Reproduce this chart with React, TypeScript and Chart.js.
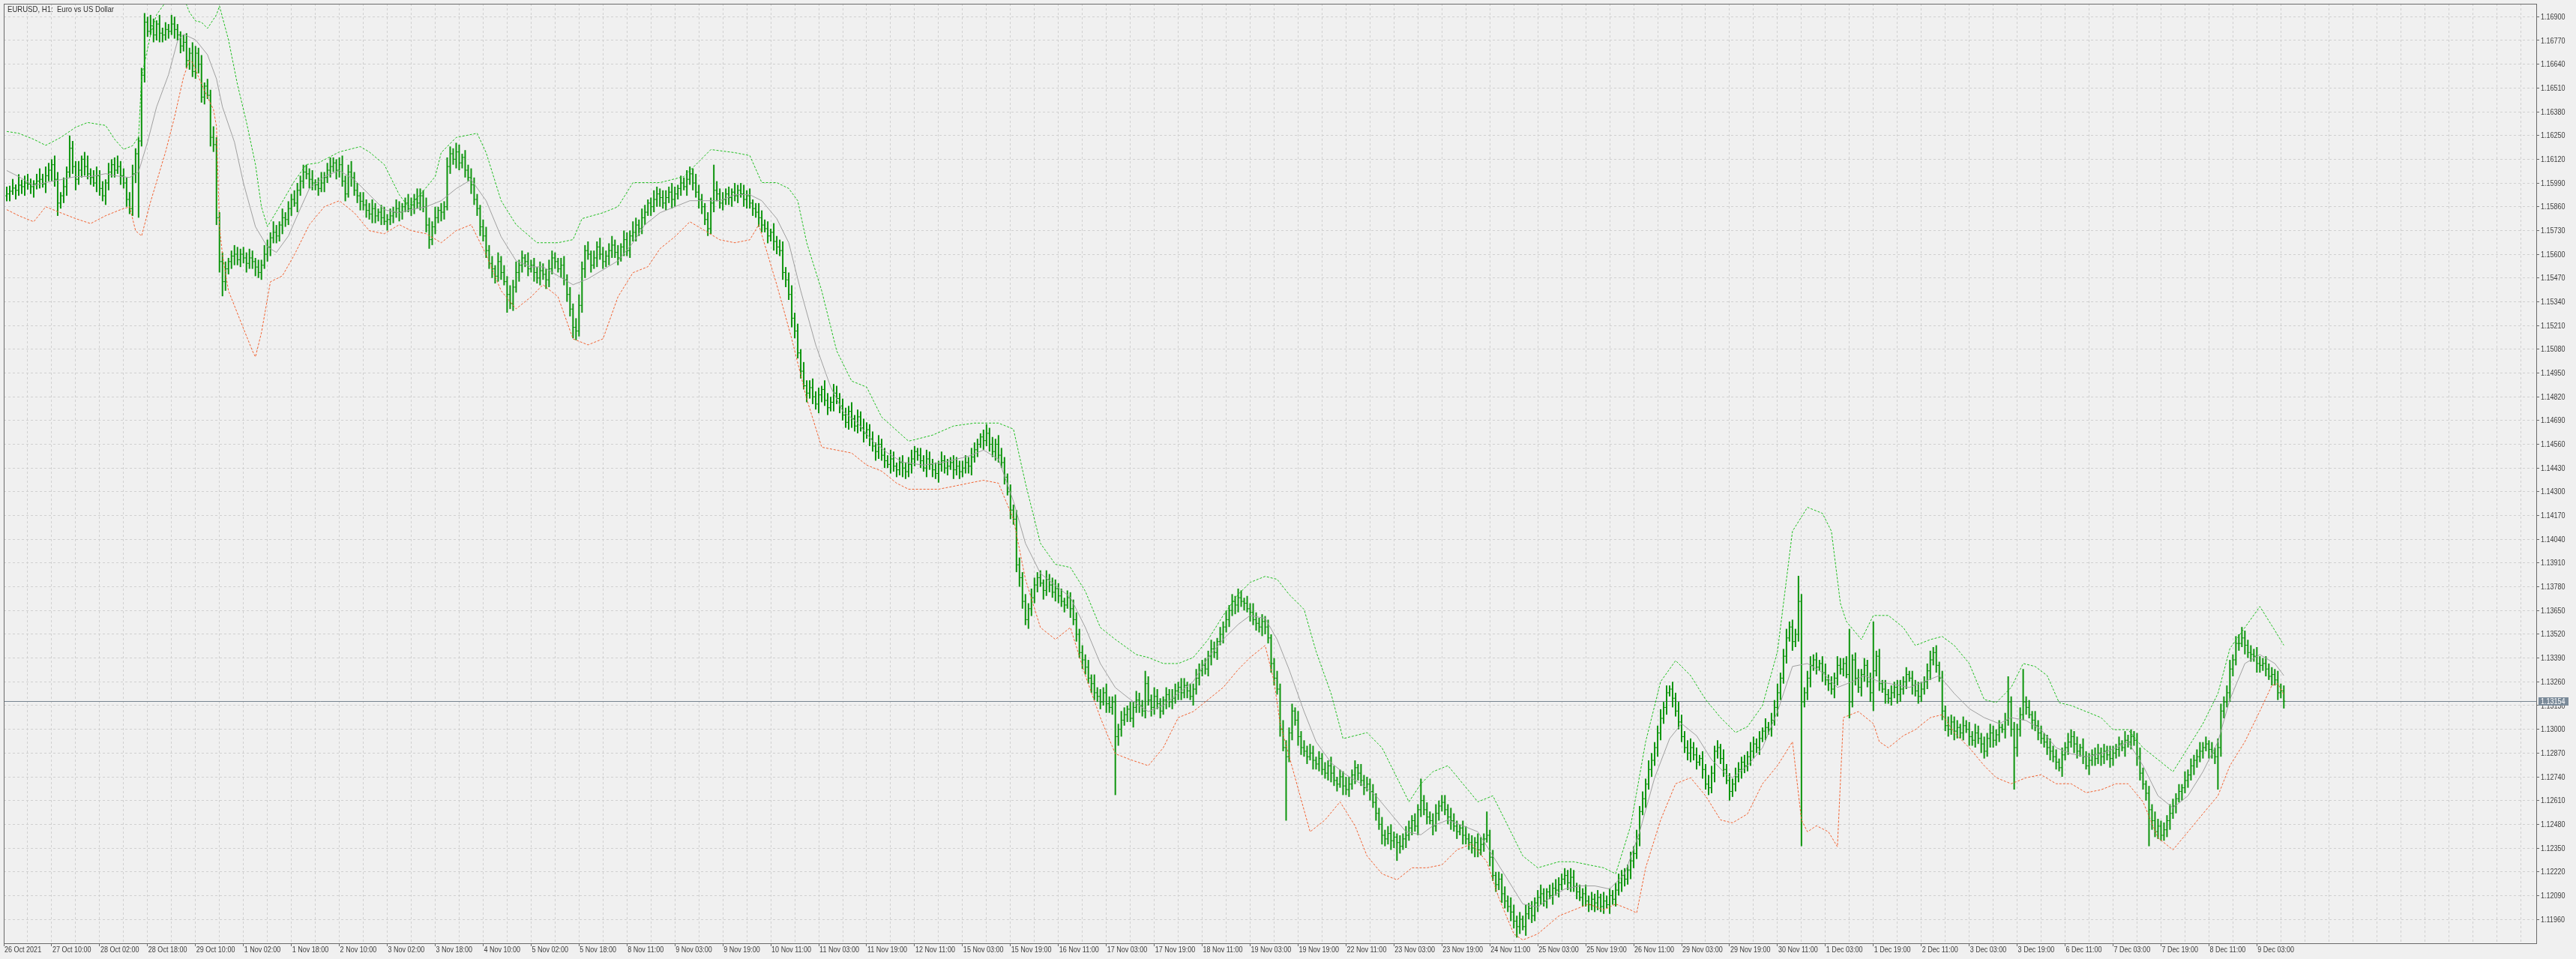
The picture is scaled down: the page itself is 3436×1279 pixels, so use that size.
import React, { useEffect, useRef } from 'react';
import { Chart, registerables } from 'chart.js';

Chart.register(...registerables);

const chartTitle = 'EURUSD, H1:  Euro vs US Dollar';

const dateLabels = [
  '26 Oct 2021', '27 Oct 10:00', '28 Oct 02:00', '28 Oct 18:00', '29 Oct 10:00', '1 Nov 02:00', '1 Nov 18:00',
  '2 Nov 10:00', '3 Nov 02:00', '3 Nov 18:00', '4 Nov 10:00', '5 Nov 02:00', '5 Nov 18:00', '8 Nov 11:00',
  '9 Nov 03:00', '9 Nov 19:00', '10 Nov 11:00', '11 Nov 03:00', '11 Nov 19:00', '12 Nov 11:00', '15 Nov 03:00',
  '15 Nov 19:00', '16 Nov 11:00', '17 Nov 03:00', '17 Nov 19:00', '18 Nov 11:00', '19 Nov 03:00', '19 Nov 19:00',
  '22 Nov 11:00', '23 Nov 03:00', '23 Nov 19:00', '24 Nov 11:00', '25 Nov 03:00', '25 Nov 19:00', '26 Nov 11:00',
  '29 Nov 03:00', '29 Nov 19:00', '30 Nov 11:00', '1 Dec 03:00', '1 Dec 19:00', '2 Dec 11:00', '3 Dec 03:00',
  '3 Dec 19:00', '6 Dec 11:00', '7 Dec 03:00', '7 Dec 19:00', '8 Dec 11:00', '9 Dec 03:00',
];

// Prices are stored in units of 0.00001 above 1.10000
const firstOpen = 5920;
const closes = [
  5930,5945,5962,5950,5978,5970,5990,5984,5970,5985,6000,
  6010,5985,6030,6060,
  6090,6010,5880,5920,5970,6050,6180,6080,6010,6060,6120,6080,6040,6020,5990,6030,5960,5920,5990,6050,
  6090,6060,6080,6030,5990,5900,5850,6040,6150,6220,6580,6870,6820,6850,
  6800,6860,6810,6800,6830,6820,6860,6830,6800,6740,6760,6660,6700,6600,6700,6640,6460,6520,6470,6240,6200,
  5800,5560,5450,5520,
  5560,5590,5600,5570,5600,5580,5550,5580,5560,5530,5500,5540,5600,
  5640,5690,5720,5700,5760,5800,5790,5850,5900,5880,5950,6000,6050,
  6040,6010,5990,5980,5960,5990,6020,6060,6080,6100,6060,6090,
  6000,5930,6050,6020,5950,5920,5890,5870,5840,5820,5850,5810,5830,5800,5780,5790,5810,
  5830,5850,5830,5860,5880,5850,5870,5900,5880,5920,5860,5760,5680,5750,5800,5840,5830,5860,
  6080,6150,6120,6160,6100,6130,6060,
  6020,5980,5900,5850,5750,5700,5620,
  5550,5520,5480,5560,5500,5450,5380,5330,
  5420,5500,5540,5580,5560,5520,5540,5500,5470,5510,5490,5460,5520,5580,5560,5520,5540,
  5460,5380,5300,5200,5180,5320,
  5520,5620,5600,5540,5580,5640,5600,5560,5590,5620,5650,5610,5580,5640,5680,
  5620,5700,5720,5760,5740,5800,5830,5880,5860,5900,5930,5910,5880,
  5910,5940,5900,5930,5960,5990,5970,6010,6040,
  5990,5940,5900,5860,5790,5740,5880,5950,
  5930,5880,5900,5930,5910,5940,5920,5950,5930,5900,5920,5880,5850,5830,
  5800,5760,5740,5700,5720,5670,5640,5620,
  5500,5460,5380,5250,5180,
  5060,4960,4880,4840,4870,
  4820,4780,4830,4860,4800,4760,4790,4840,4810,4770,4720,4680,4740,4700,4660,4710,4650,4620,4640,
  4590,4550,4520,4560,4500,4470,4450,4480,4440,4420,4460,4430,4410,4450,4480,
  4520,4500,4470,4430,4480,4450,4420,4400,4450,4470,4430,4440,4460,4420,4440,4410,4430,4460,4440,4490,4530,4560,
  4600,4580,4620,4560,4520,4560,4500,4460,
  4380,4300,4200,4150,
  3900,3830,3700,3600,3660,
  3720,3790,3830,3800,3760,3820,3790,3750,3770,3730,3700,3680,3720,3660,3600,
  3520,3420,3380,3340,3280,3250,3200,
  3180,3150,3200,3140,3120,3150,2960,
  3000,3050,3080,3110,3060,3120,3160,3130,3100,3250,3160,3120,
  3180,3140,3100,3160,3190,3150,3170,3210,3230,3200,3240,3210,3180,3220,
  3280,3320,3350,3330,3400,3440,3420,3480,3520,3560,3600,3650,3700,
  3680,3720,3700,3690,3660,3640,3600,3580,3560,3590,3560,3500,
  3360,3280,3220,
  3000,2900,2850,2980,3100,3050,2960,2900,
  2880,2850,2870,2830,2810,2840,2780,2760,2800,2760,2720,2700,2740,2690,2670,2700,2750,2790,2760,2720,2680,2700,2660,
  2600,2540,2480,2420,2400,
  2430,2390,2410,2380,2360,2400,2420,2460,2500,2470,2560,2610,
  2560,2520,2500,2470,2540,2580,2600,2560,2520,2500,
  2470,2440,2460,2420,2400,2380,2350,2380,2340,2370,2400,2420,
  2300,2200,2150,2180,2100,2060,2030,2000,1950,1920,
  1960,1920,1990,2020,1980,2050,2080,
  2100,2060,2110,2090,2130,2120,2150,2180,2200,2160,2190,2140,
  2110,2080,2100,2060,2040,2070,2050,2080,2030,2060,2040,2090,2070,
  2120,2160,2200,2180,2230,2280,2320,
  2400,2550,2620,2700,2780,2830,2900,2980,3060,3120,
  3200,3220,3170,3100,3040,
  2960,2900,2870,2900,2860,2820,2840,2780,2700,2680,2760,2880,2900,2840,2780,2720,2660,
  2700,2740,2780,2820,2800,2850,2880,2920,2900,2950,2990,3010,3000,3050,
  3120,3200,3280,3400,3500,3560,3480,3520,3700,3150,
  3200,3280,3350,3380,3340,3360,3310,3270,3250,3220,3280,3350,3330,3360,3300,
  3150,3380,3280,3230,3300,3350,3260,3200,3320,3400,3250,3220,
  3190,3170,3200,3230,3190,3220,3260,3300,3280,3240,3210,3180,3220,3260,
  3320,3380,3420,3350,3280,
  3100,3020,3000,3040,2990,3010,2980,3020,3000,2960,2940,2980,
  2950,2920,2880,2950,2980,2940,2970,3010,3000,3050,3150,3000,2900,
  3000,3080,3150,3120,3080,3050,3020,
  2980,2950,2930,2900,2880,2850,2820,2790,2860,2900,2930,2960,
  2920,2880,2900,2850,2800,2830,2860,2840,2870,2850,2880,2860,2840,2870,2890,
  2920,2900,2940,2930,2960,2940,2850,2760,2700,2650,
  2560,2500,2440,2470,2420,2450,2500,2540,2580,
  2620,2660,2680,2720,2750,2800,2830,2850,2880,2900,2920,2890,2870,2850,2900,
  3100,3150,3200,3330,3380,3470,3470,3500,3460,3420,3410,3400,3360,3350,3360,3330,3290,3300,3270,3200,3210,3154,
];

// Wicks in pips beyond the bar body (max/min of open and close)
const upWick = [
  4,3,5,2,6,3,4,5,3,2,4,6,3,5,4,3,5,4,2,5,
  3,7,4,3,5,2,4,6,3,4,5,3,4,2,5,3,4,6,3,4,
  3,4,5,3,2,4,5,3,6,4,2,5,3,4,3,5,4,3,2,4,
  5,3,6,4,3,5,2,4,3,6,4,3,5,4,2,3,5,4,3,4,
  3,5,4,2,4,3,5,4,3,6,4,2,5,3,4,3,5,4,3,4,
  4,3,5,2,4,6,3,4,5,3,2,4,5,3,4,6,3,4,2,5,
  3,4,5,3,2,4,6,3,4,3,5,4,2,3,5,4,3,6,4,3,
  5,4,3,6,2,4,3,5,4,3,5,4,2,4,3,5,4,3,2,4,
  5,3,4,2,5,3,4,3,5,4,6,3,4,2,5,3,4,3,5,4,
  3,5,4,3,2,4,5,3,4,3,5,6,4,3,5,2,4,3,5,4,
  3,4,5,3,4,2,5,4,3,6,4,3,5,4,2,3,5,4,3,4,
  4,3,5,4,2,4,3,5,4,3,5,4,3,2,4,3,14,5,3,4,
  3,4,2,5,3,4,5,3,4,2,3,5,4,3,4,2,5,3,4,5,
  3,4,5,3,4,2,5,3,4,5,3,4,2,5,4,3,5,4,3,4,
  4,3,5,2,4,3,5,4,3,4,2,5,3,4,3,5,4,2,3,4,
  3,4,5,3,2,4,3,5,4,3,4,2,5,3,4,3,4,5,3,4,
  4,3,5,4,3,2,4,5,3,4,3,5,4,3,2,4,3,5,4,3,
  4,3,5,4,3,4,2,5,3,4,5,3,4,2,4,3,5,4,3,4,
  3,4,2,5,3,4,3,5,4,3,4,3,5,4,2,4,3,5,4,3,
  7,4,3,5,4,3,2,4,3,5,4,3,5,4,2,4,3,5,4,3,
  4,3,5,4,2,4,3,5,3,4,3,5,4,2,4,3,5,4,3,4,
  3,4,2,3,4,3,5,4,3,4,2,5,3,4,3,5,4,2,4,3,
  4,3,5,4,2,4,3,5,4,3,4,2,5,3,4,3,4,5,3,4,
  3,4,5,3,2,4,3,5,4,3,4,3,12,3,4,3,4,5,3,4,
  4,3,5,4,3,2,4,5,3,4,3,5,4,3,13,3,4,2,4,3,
  4,3,5,4,3,4,2,5,3,4,3,4,5,3,2,4,3,5,4,3,
  4,3,5,4,2,4,3,5,3,4,3,4,2,5,3,4,3,4,5,3,
  4,3,5,4,5,3,4,3,5,4,3,4,5,3,4,2,4,3,5,4,
  3,4,5,3,4,2,4,3,5,4,3,4,2,5,3,4,3,5,4,3,
  4,3,5,4,3,4,2,5,3,4,4,5,3,4,5,3,4,3,14,4,
  3,4,5,3,4,2,4,5,3,4,3,5,4,3,4,25,3,4,5,3,
  4,3,5,27,3,4,2,5,3,4,3,4,5,3,4,2,4,3,5,4,
  3,4,5,3,4,2,4,3,5,4,3,4,2,5,3,4,3,5,4,3,
  4,3,5,4,3,4,2,4,14,3,4,3,4,18,3,4,2,5,3,4,
  3,4,5,3,4,2,4,3,5,4,3,4,2,5,3,4,3,4,5,3,
  4,3,5,4,3,4,2,5,3,4,3,4,5,3,2,4,3,5,4,3,
  4,3,5,4,3,4,2,5,3,4,3,4,5,3,4,2,4,3,5,4,
  3,4,5,3,4,5,6,4,3,4,3,5,4,3,4,3,4,3,5,4,3,
];

const downWick = [
  3,4,2,5,3,4,5,3,4,6,3,4,2,5,3,6,4,7,3,4,
  5,3,4,6,3,4,5,3,4,2,5,4,3,5,4,3,4,2,5,3,
  4,3,4,5,35,3,4,3,2,4,3,5,4,3,4,2,5,3,4,3,
  4,5,3,4,5,3,4,2,5,4,4,6,8,5,3,4,5,3,4,3,
  5,3,4,5,3,4,2,4,5,3,4,3,5,4,3,4,2,5,3,4,
  3,5,4,3,4,2,5,3,4,3,5,4,3,4,2,5,3,4,5,3,
  4,3,5,4,3,4,2,5,3,4,3,5,4,3,2,4,5,3,4,3,
  4,5,3,4,3,5,4,2,4,3,5,4,3,4,2,5,3,4,5,3,
  4,3,5,4,3,4,2,10,3,4,3,5,4,3,4,2,5,3,4,3,
  5,4,3,4,2,5,3,4,4,6,5,3,4,5,3,4,2,5,3,4,
  3,5,4,3,4,2,5,3,4,3,5,4,3,4,2,5,3,4,5,3,
  4,3,5,4,3,4,2,5,3,4,3,5,4,3,4,3,5,4,3,4,
  3,4,5,3,4,2,4,5,3,4,3,5,4,2,4,3,5,4,3,4,
  4,3,5,4,3,4,2,5,3,4,3,5,4,3,4,2,5,3,4,3,
  3,4,5,3,4,2,5,3,4,3,5,4,3,4,2,5,3,4,3,5,
  4,3,5,4,3,4,2,5,3,4,3,5,4,3,4,2,5,3,4,3,
  3,4,5,3,4,2,5,3,4,3,5,4,3,4,2,5,3,4,5,4,
  3,5,4,3,4,2,5,3,4,3,5,4,3,4,2,5,3,4,3,5,
  4,3,5,4,3,4,2,5,3,4,32,5,4,3,4,2,5,3,4,3,
  4,3,5,4,3,4,2,5,3,4,3,5,4,3,4,2,5,3,4,3,
  3,4,5,3,4,2,5,3,4,3,5,4,3,4,2,5,3,4,3,5,
  4,3,5,4,3,4,2,35,3,4,3,5,4,3,4,2,5,3,4,3,
  3,4,5,3,4,2,5,3,4,3,5,4,3,4,2,5,3,4,3,5,
  4,3,5,4,10,4,2,5,3,4,3,5,4,3,4,2,5,3,4,3,
  3,4,5,3,4,2,5,3,4,3,5,4,3,4,2,5,3,4,3,5,
  4,3,5,4,6,4,2,5,3,4,3,5,4,3,4,2,5,3,4,3,
  3,4,5,3,4,2,5,3,4,3,5,4,3,4,2,5,3,4,3,5,
  4,3,5,4,3,4,2,5,3,4,3,5,4,3,4,2,5,3,4,3,
  3,4,5,3,4,2,5,3,4,3,5,4,3,4,2,5,3,4,3,5,
  4,3,5,4,3,4,2,5,3,4,3,5,4,3,4,2,5,3,4,79,
  3,4,5,3,4,2,5,3,4,3,5,4,3,4,2,9,3,4,3,5,
  4,3,5,10,3,4,2,5,3,4,3,5,4,3,4,2,5,3,4,3,
  3,4,5,3,4,2,5,3,4,3,5,4,3,4,2,5,3,4,3,5,
  4,3,5,4,3,4,2,5,3,4,23,5,4,3,4,2,5,3,4,3,
  3,4,5,3,4,2,5,3,4,3,5,4,3,4,2,5,3,4,3,5,
  4,3,5,4,3,4,2,5,3,4,3,5,4,3,4,20,5,3,4,3,
  3,4,5,3,4,2,5,3,4,3,5,4,3,4,2,5,3,4,18,5,
  4,3,5,4,3,4,2,5,3,4,3,5,4,3,4,2,5,3,4,3,4,
];

// Indicator lines: bar index and value (0.00001 above 1.10000)
const upperBandBars = [
  0,4,9,13,18,23,27,33,36,39,42,44,45,48,50,53,56,60,61,63,65,67,70,71,74,77,80,83,85,87,
  91,96,100,104,111,118,121,126,131,134,138,143,145,150,157,160,165,170,177,184,189,192,199,204,209,218,226,235,243,248,
  252,257,261,264,267,272,277,282,287,292,301,309,316,323,331,336,340,345,350,355,360,365,370,377,381,
  386,391,396,401,406,411,415,420,424,428,433,437,442,446,450,454,459,464,468,472,476,481,486,491,496,501,506,511,518,523,
  528,533,537,542,547,552,557,562,567,572,577,581,586,591,596,601,606,609,612,614,619,623,628,633,637,642,646,650,655,660,
  664,669,673,677,681,685,689,694,699,703,708,713,718,723,728,733,738,742,747,752,757,760,
];
const upperBandValues = [
  6272,6262,6229,6196,6239,6295,6321,6305,6229,6174,6194,6242,6570,6802,6911,6979,7080,6965,6924,6877,6870,6836,6911,6959,6774,6529,6324,6092,5860,5751,
  5860,6000,6091,6100,6160,6189,6160,6091,5926,5860,5926,6025,6156,6239,6262,6156,5893,5762,5663,5663,5680,5795,5827,5860,5992,5992,6025,6173,6156,6140,
  5992,5992,5960,5893,5663,5400,5071,4906,4873,4709,4577,4610,4660,4676,4676,4643,4347,4018,3903,3886,3755,3557,3492,3409,3393,
  3360,3360,3393,3492,3623,3738,3804,3837,3821,3738,3656,3426,3196,2949,2965,2982,2899,2735,2603,2702,2768,2801,2702,2603,2636,2472,2307,2242,2275,2275,
  2258,2242,2209,2472,2932,3261,3376,3294,3163,3064,2982,3015,3130,3426,4084,4215,4182,4084,3689,3590,3491,3623,3623,3557,3459,3491,3508,3459,3360,3163,
  3146,3229,3360,3344,3294,3146,3130,3097,3064,2998,2998,2899,2834,2768,2899,3031,3196,3442,3557,3672,3541,3460,
];

const middleLineBars = [
  0,4,9,13,18,23,28,33,36,41,44,47,50,54,57,59,63,67,70,72,76,79,83,87,90,94,98,101,106,111,
  116,121,126,131,135,140,145,150,155,160,165,170,175,179,184,189,194,199,204,209,213,218,223,228,233,238,243,248,252,257,
  261,265,270,275,279,284,289,294,299,306,313,321,326,331,336,340,345,350,355,360,365,370,375,381,
  386,391,396,401,406,411,415,420,424,428,433,437,442,447,452,457,462,467,472,476,481,486,491,496,501,506,511,515,520,525,
  530,535,540,545,550,555,559,564,569,574,576,581,586,591,596,601,606,611,616,620,625,630,635,640,645,650,655,660,665,669,
  674,679,684,689,694,699,704,708,713,718,723,728,733,738,742,747,752,757,760,
];
const middleLineValues = [
  6058,6025,5976,5992,6008,6025,6025,6041,6030,6020,6051,6215,6406,6583,6767,6804,6774,6692,6560,6406,6214,5990,5751,5640,5610,5700,5850,5959,6025,6058,
  6008,5926,5844,5827,5844,5860,5893,5959,6008,5893,5696,5564,5531,5531,5482,5433,5466,5515,5564,5663,5762,5827,5860,5893,5893,5893,5926,5926,5893,5795,
  5663,5400,5104,4873,4742,4676,4577,4512,4462,4446,4462,4495,4528,4479,4248,4018,3853,3788,3722,3557,3360,3228,3163,3097,
  3130,3196,3261,3393,3492,3574,3623,3607,3492,3327,3097,2932,2817,2751,2702,2636,2537,2439,2423,2472,2504,2472,2439,2307,2176,2044,2027,2077,2126,2143,
  2143,2126,2209,2439,2735,2949,3031,2965,2834,2751,2735,2801,2899,3097,3344,3360,3310,3229,3261,3294,3261,3245,3229,3261,3294,3196,3113,3064,3031,3064,
  3048,2998,2899,2866,2850,2866,2899,2932,2801,2636,2570,2636,2768,2932,3163,3360,3409,3360,3294,
];

const lowerBandBars = [
  0,4,9,13,18,23,28,33,38,41,43,45,48,53,56,59,61,62,64,67,69,70,71,72,74,78,82,83,85,88,
  92,96,101,106,111,116,121,126,131,135,140,145,150,155,160,165,170,175,179,184,189,194,199,204,209,214,218,223,228,233,
  238,243,248,251,254,257,262,267,272,277,282,287,292,297,301,311,316,321,326,331,336,340,345,350,355,360,365,370,375,381,
  386,391,396,401,406,411,415,420,423,425,430,435,440,445,450,454,459,464,469,474,479,484,489,494,498,503,506,511,518,523,
  528,533,537,542,544,547,552,557,562,567,572,576,581,586,591,596,599,601,604,608,611,613,618,623,625,628,633,637,642,646,
  650,655,660,664,669,674,679,684,689,694,699,704,708,713,718,723,728,733,738,742,747,752,756,758,760,
];
const lowerBandValues = [
  5844,5811,5778,5860,5827,5795,5768,5811,5844,5860,5729,5700,5887,6160,6351,6570,6660,6650,6570,6460,6392,6300,5751,5597,5400,5235,5071,5038,5170,5449,
  5482,5597,5762,5860,5893,5827,5729,5712,5762,5729,5712,5663,5729,5762,5597,5400,5301,5367,5433,5367,5137,5104,5137,5367,5499,5532,5630,5696,5778,5729,
  5679,5663,5679,5762,5597,5433,5137,4808,4544,4528,4512,4446,4413,4347,4314,4314,4330,4347,4363,4347,4150,3821,3557,3492,3557,3294,3064,2866,2834,2801,
  2899,3064,3097,3163,3229,3327,3393,3459,3261,3031,2735,2439,2504,2603,2472,2307,2209,2176,2242,2242,2258,2340,2373,2275,2077,1880,1847,1880,1978,2011,
  2044,2011,2044,2011,1995,2242,2504,2702,2735,2636,2504,2488,2537,2702,2801,2932,2504,2439,2472,2439,2357,3064,3097,3031,2932,2899,2965,2998,3064,3080,
  2982,2899,2801,2735,2702,2735,2751,2702,2702,2653,2669,2702,2702,2603,2406,2340,2439,2538,2636,2801,2932,3100,3240,3250,3190,
];

// Right price axis: grid every 0.0013 from 1.11960
const priceTickFirst = 1.1196;
const priceTickStep = 0.0013;
const priceTickCount = 39;
const priceAxisMin = 1.11829;
const priceAxisMax = 1.16971;

const PIP = 10;
const toPrice = (u: number) => Math.round((1.1 + u / 100000) * 100000) / 100000;

const FONT_FAMILY = "'Liberation Sans', Arial, sans-serif";
const LABEL_SQUEEZE = 0.82;
const BAR_COLOR = '#0c940c';
const GRID_COLOR = '#d0d0d0';
const FRAME_COLOR = '#6a6a6a';
const TEXT_COLOR = '#3c3c3c';

export default function App() {
  const canvasRef = useRef<HTMLCanvasElement | null>(null);

  useEffect(() => {
    const canvas = canvasRef.current;
    if (!canvas) return;
    const n = Math.min(closes.length, upWick.length, downWick.length);
    const opens: number[] = [];
    for (let i = 0; i < n; i++) opens.push(i === 0 ? firstOpen : closes[i - 1]);

    const rangeData = [];
    const openData = [];
    const closeData = [];
    for (let i = 0; i < n; i++) {
      const hi = Math.max(opens[i], closes[i]) + upWick[i] * PIP;
      const lo = Math.min(opens[i], closes[i]) - downWick[i] * PIP;
      rangeData.push({ x: i, y: [toPrice(lo), toPrice(hi)] });
      openData.push({ x: i, y: toPrice(opens[i]) });
      closeData.push({ x: i, y: toPrice(closes[i]) });
    }
    const lastPrice = toPrice(closes[n - 1]);

    const lineData = (bars: number[], vals: number[]) =>
      bars.slice(0, Math.min(bars.length, vals.length)).map((b, k) => ({ x: b, y: toPrice(vals[k]) }));

    const priceTicks: number[] = [];
    for (let k = 0; k < priceTickCount; k++) priceTicks.push(Math.round((priceTickFirst + k * priceTickStep) * 100000) / 100000);
    const timeGrid: number[] = [];
    for (let k = 0; k * 8 - 1 <= 844; k++) timeGrid.push(k * 8 - 1);

    const labelFor = (value: number) => {
      const v = Math.round(value) + 1;
      if (v % 16 !== 0) return '';
      const j = v / 16;
      return j < dateLabels.length ? dateLabels[j] : '';
    };

    const squeezedText = (ctx: any, text: string, x: number, y: number, squeeze: number) => {
      ctx.save();
      ctx.translate(x, y);
      ctx.scale(squeeze, 1);
      ctx.fillText(text, 0, 0);
      ctx.restore();
    };

    const backgroundPlugin = {
      id: 'mtBackground',
      beforeDraw(chart: any) {
        const { ctx, width, height } = chart;
        ctx.save();
        ctx.fillStyle = '#f0f0f0';
        ctx.fillRect(0, 0, width, height);
        ctx.restore();
      },
    };

    const overlayPlugin = {
      id: 'mtOverlay',
      beforeDatasetsDraw(chart: any) {
        const { ctx, chartArea, scales } = chart;
        const y = Math.round(scales.y.getPixelForValue(lastPrice)) + 0.5;
        ctx.save();
        ctx.strokeStyle = '#76838f';
        ctx.lineWidth = 1;
        ctx.beginPath();
        ctx.moveTo(chartArea.left, y);
        ctx.lineTo(chartArea.right, y);
        ctx.stroke();
        ctx.restore();
      },
      afterDraw(chart: any) {
        const { ctx, chartArea, scales } = chart;
        ctx.save();
        // frame
        ctx.strokeStyle = FRAME_COLOR;
        ctx.lineWidth = 1;
        ctx.strokeRect(chartArea.left + 0.5, chartArea.top + 0.5, chartArea.right - chartArea.left, chartArea.bottom - chartArea.top);
        // title
        ctx.fillStyle = '#303030';
        ctx.font = `11px ${FONT_FAMILY}`;
        ctx.textBaseline = 'middle';
        ctx.textAlign = 'left';
        squeezedText(ctx, chartTitle, chartArea.left + 5, chartArea.top + 8, 0.87);
        // time axis labels
        ctx.fillStyle = TEXT_COLOR;
        ctx.font = `11px ${FONT_FAMILY}`;
        for (const v of timeGrid) {
          const label = labelFor(v);
          if (!label) continue;
          const x = scales.x.getPixelForValue(v);
          squeezedText(ctx, label, x + 1, chartArea.bottom + 9, LABEL_SQUEEZE);
        }
        // price axis labels
        for (const p of priceTicks) {
          const y = scales.y.getPixelForValue(p);
          squeezedText(ctx, p.toFixed(5), chartArea.right + 6, y + 0.5, LABEL_SQUEEZE);
        }
        // price tag
        const y = Math.round(scales.y.getPixelForValue(lastPrice));
        const x0 = chartArea.right + 3;
        ctx.fillStyle = '#7a8a99';
        ctx.fillRect(x0, y - 5, 40, 11);
        ctx.fillStyle = '#ffffff';
        squeezedText(ctx, lastPrice.toFixed(5), x0 + 3, y + 0.5, LABEL_SQUEEZE);
        ctx.restore();
      },
    };

    const chart = new Chart(canvas, {
      type: 'bar',
      data: {
        datasets: [
          {
            type: 'line',
            label: 'upper',
            data: lineData(upperBandBars, upperBandValues),
            borderColor: '#1fbf1f',
            borderWidth: 1,
            borderDash: [3, 2],
            pointRadius: 0,
            tension: 0,
            fill: false,
            order: 0,
          },
          {
            type: 'line',
            label: 'middle',
            data: lineData(middleLineBars, middleLineValues),
            borderColor: '#a0a0a0',
            borderWidth: 1,
            pointRadius: 0,
            tension: 0,
            fill: false,
            order: 0,
          },
          {
            type: 'line',
            label: 'lower',
            data: lineData(lowerBandBars, lowerBandValues),
            borderColor: '#f26230',
            borderWidth: 1,
            borderDash: [3, 2],
            pointRadius: 0,
            tension: 0,
            fill: false,
            order: 0,
          },
          {
            type: 'line',
            label: 'open',
            data: openData,
            showLine: false,
            pointStyle: 'dash',
            pointRotation: 180,
            pointRadius: 2,
            pointBorderWidth: 1,
            pointBorderColor: BAR_COLOR,
            pointBackgroundColor: BAR_COLOR,
            order: 1,
          },
          {
            type: 'line',
            label: 'close',
            data: closeData,
            showLine: false,
            pointStyle: 'dash',
            pointRadius: 2,
            pointBorderWidth: 1,
            pointBorderColor: BAR_COLOR,
            pointBackgroundColor: BAR_COLOR,
            order: 1,
          },
          {
            type: 'bar',
            label: 'range',
            data: rangeData,
            backgroundColor: BAR_COLOR,
            borderWidth: 0,
            barThickness: 2,
            inflateAmount: 0,
            order: 2,
          },
        ],
      },
      options: {
        responsive: false,
        maintainAspectRatio: false,
        devicePixelRatio: 1,
        animation: false,
        events: [],
        layout: { padding: { left: 2, top: 2, right: 0, bottom: 0 } },
        plugins: {
          legend: { display: false },
          tooltip: { enabled: false },
          title: { display: false },
        },
        scales: {
          x: {
            type: 'linear',
            min: -1,
            max: 844.25,
            offset: false,
            afterBuildTicks: (axis: any) => {
              axis.ticks = timeGrid.map((v) => ({ value: v }));
            },
            afterFit: (axis: any) => {
              axis.height = 21;
              axis.paddingLeft = 0;
              axis.paddingRight = 0;
            },
            ticks: {
              display: false,
              autoSkip: false,
              maxRotation: 0,
              minRotation: 0,
            },
            grid: {
              color: GRID_COLOR,
              lineWidth: 1,
              drawTicks: true,
              tickLength: 4,
              tickColor: (c: any) => (c.tick && labelFor(c.tick.value) !== '' ? FRAME_COLOR : 'rgba(0,0,0,0)'),
              offset: false,
            },
            border: { display: true, color: FRAME_COLOR, dash: [3, 3] },
          },
          y: {
            type: 'linear',
            position: 'right',
            min: priceAxisMin,
            max: priceAxisMax,
            afterBuildTicks: (axis: any) => {
              axis.ticks = priceTicks.map((v) => ({ value: v }));
            },
            afterFit: (axis: any) => {
              axis.width = 53;
              axis.paddingTop = 0;
              axis.paddingBottom = 0;
            },
            ticks: {
              display: false,
              autoSkip: false,
            },
            grid: {
              color: GRID_COLOR,
              lineWidth: 1,
              drawTicks: true,
              tickLength: 4,
              tickColor: FRAME_COLOR,
            },
            border: { display: true, color: FRAME_COLOR, dash: [3, 3] },
          },
        },
      },
      plugins: [backgroundPlugin, overlayPlugin],
    } as any);

    return () => {
      chart.destroy();
    };
  }, []);

  return (
    <div style={{ position: 'fixed', left: 0, top: 0, width: 3436, height: 1279, background: '#f0f0f0', overflow: 'hidden' }}>
      <canvas ref={canvasRef} width={3436} height={1279} style={{ display: 'block', width: 3436, height: 1279 }} />
    </div>
  );
}
